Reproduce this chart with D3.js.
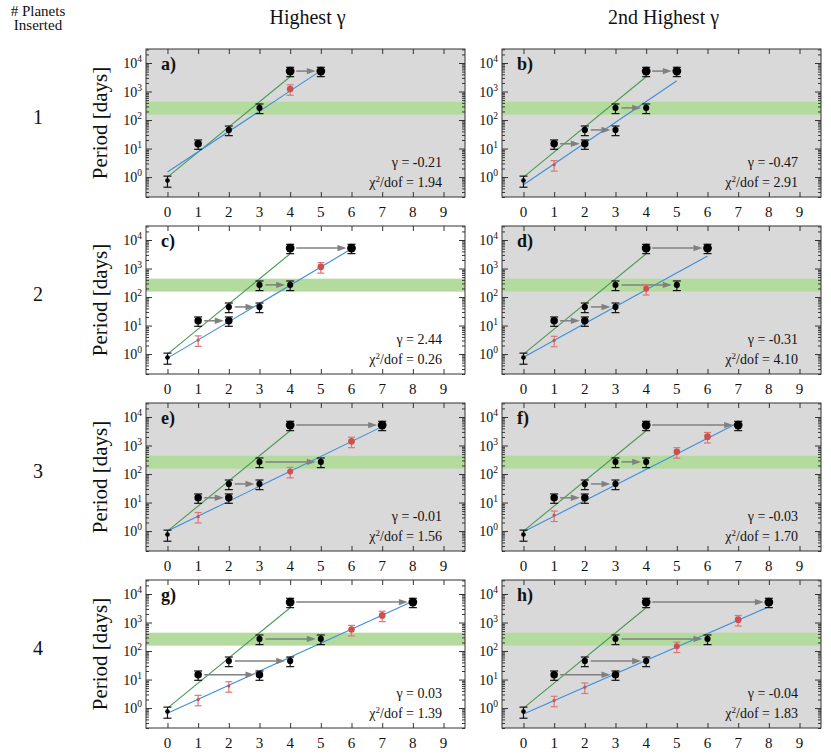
<!DOCTYPE html>
<html><head><meta charset="utf-8">
<script src="https://cdn.jsdelivr.net/npm/d3@7"></script>
<style>
body{margin:0;background:#fff}
svg{display:block}
text{font-family:"Liberation Serif","Times New Roman",serif;fill:#111}
</style>
</head><body>
<svg id="c" width="831" height="756"></svg>
<script>
// ---------------- DATA ----------------
const panelLabels = ["a)","b)","c)","d)","e)","f)","g)","h)"];
const gammaVals  = ["-0.21","-0.47","2.44","-0.31","-0.01","-0.03","0.03","-0.04"];
const chi2Vals   = ["1.94","2.91","0.26","4.10","1.56","1.70","1.39","1.83"];
const whitePanel = [false,false,true,false,false,false,true,false];
const rowLabels  = ["1","2","3","4"];
const colTitles  = ["Highest γ","2nd Highest γ"];
const xTicks     = [0,1,2,3,4,5,6,7,8,9];
const yMajorExp  = [0,1,2,3,4];
const xDomain    = [-0.7, 9.7];
const yDomain    = [0.2, 31000];
const hzBand     = [155, 440];          // green band, period in days

// observed planets: period [days], mass (Earth masses), fractional error
const obsPeriod = [0.76, 14.7, 45, 267, 5200];
const obsMass   = [8, 255, 54, 47, 1200];
const obsErr    = [0.42, 0.36, 0.37, 0.37, 0.36];

// new position of each observed planet after insertion, per panel
const obsNewIndex = [
  [0,1,2,3,5],
  [0,2,3,4,5],
  [0,2,3,4,6],
  [0,2,3,5,6],
  [0,2,3,5,7],
  [0,2,3,4,7],
  [0,3,4,5,8],
  [0,3,4,6,8]
];

// inserted planets per panel: [index, period, mass]
const inserted = [
  [[4,1230,80]],
  [[1,2.7,1.5]],
  [[1,3.1,1.5],[5,1150,100]],
  [[1,3.0,1.5],[4,196,40]],
  [[1,3.2,1.5],[4,122,40],[6,1400,100]],
  [[1,3.6,1.5],[5,600,80],[6,2050,100]],
  [[1,2.0,1.5],[2,6.0,1.5],[6,565,80],[7,1780,100]],
  [[1,1.85,1.5],[2,5.4,1.5],[5,147,40],[7,1260,100]]
];
const insertedErr = 0.4;

// fit to original system (green) and to new system (blue): [[x0,P0],[x1,P1]]
const origFit = [[0,1.0],[4,3300]];
const newFit = [
  [[0,1.5],[5,5400]],
  [[0,0.54],[5,2400]],
  [[0,0.72],[6,4900]],
  [[0,0.77],[6,2750]],
  [[0,1.0],[7,4600]],
  [[0,0.95],[7,6300]],
  [[0,0.66],[8,5600]],
  [[0,0.62],[8,3550]]
];

// ---------------- LAYOUT ----------------
const W = 319, H = 148;
const colLeft = [146, 502];
const rowTop  = [49, 226, 403, 580];
const C = {bg:"#d9d9d9", band:"#b4db9e", green:"#4a9a55", blue:"#3d8edb",
           red:"#cc5050", redErr:"#de7676", arrow:"#808080", frame:"#333"};

const svg = d3.select("#c");
const rScale = d3.scaleLog().domain([1.5,1200]).range([1.6,4.4]).clamp(true);

// headers
svg.append("text").attr("x",38).attr("y",15.5).attr("text-anchor","middle").attr("font-size",15).text("# Planets");
svg.append("text").attr("x",38).attr("y",30).attr("text-anchor","middle").attr("font-size",15).text("Inserted");
colTitles.forEach((t,c)=>{
  svg.append("text").attr("x",colLeft[c]+W/2+2).attr("y",24).attr("text-anchor","middle")
     .attr("font-size",20).text(t);
});
rowLabels.forEach((t,r)=>{
  svg.append("text").attr("x",38).attr("y",rowTop[r]+75).attr("text-anchor","middle")
     .attr("font-size",20).text(t);
});

const minorVals = [];
for (let d=-1; d<=4; d++) for (let k=2;k<=9;k++){const v=k*Math.pow(10,d); if(v>=yDomain[0]&&v<=yDomain[1]) minorVals.push(v);}
const majorVals = yMajorExp.map(e=>Math.pow(10,e));

panelLabels.forEach((lab,i)=>{
  const col = i%2, row = Math.floor(i/2);
  const g = svg.append("g").attr("transform",`translate(${colLeft[col]},${rowTop[row]})`);
  const x = d3.scaleLinear().domain(xDomain).range([0,W]);
  const y = d3.scaleLog().domain(yDomain).range([H,0]);

  g.append("rect").attr("width",W).attr("height",H).attr("fill",whitePanel[i]?"#fff":C.bg);
  g.append("rect").attr("x",0).attr("width",W).attr("y",y(hzBand[1]))
   .attr("height",y(hzBand[0])-y(hzBand[1])).attr("fill",C.band);

  // ticks
  const tickG = g.append("g").attr("class","ticks");
  const ax = (axis,tr)=>{const a=tickG.append("g").attr("transform",tr||null).call(axis);
     a.select(".domain").remove(); a.selectAll("line").attr("stroke",C.frame); return a;};
  ax(d3.axisBottom(x).tickValues(xTicks).tickSize(-5).tickFormat(""),`translate(0,${H})`);
  ax(d3.axisTop(x).tickValues(xTicks).tickSize(-5).tickFormat(""));
  ax(d3.axisLeft(y).tickValues(majorVals).tickSize(-6).tickFormat(""));
  ax(d3.axisLeft(y).tickValues(minorVals).tickSize(-3).tickFormat(""));
  ax(d3.axisRight(y).tickValues(majorVals).tickSize(-6).tickFormat(""),`translate(${W},0)`);
  ax(d3.axisRight(y).tickValues(minorVals).tickSize(-3).tickFormat(""),`translate(${W},0)`);

  // fit lines
  const line = d3.line().x(d=>x(d[0])).y(d=>y(d[1]));
  g.append("path").attr("d",line(origFit)).attr("fill","none").attr("stroke",C.green).attr("stroke-width",1.1);
  g.append("path").attr("d",line(newFit[i])).attr("fill","none").attr("stroke",C.blue).attr("stroke-width",1.1);

  // arrows
  obsNewIndex[i].forEach((ni,oi)=>{
    if (ni===oi) return;
    const yy = y(obsPeriod[oi]);
    const xs = x(oi)+6, xt = x(ni)-5, hl = 9, hw = 3.2;
    g.append("line").attr("x1",xs).attr("x2",xt-hl+1).attr("y1",yy).attr("y2",yy)
      .attr("stroke",C.arrow).attr("stroke-width",1.5);
    g.append("path").attr("d",`M${xt},${yy}L${xt-hl},${yy-hw}L${xt-hl},${yy+hw}Z`).attr("fill",C.arrow);
  });

  const drawPoint = (px,P,err,mass,isRed)=>{
    const cx = x(px), cw = isRed?3.5:4;
    const yHi = y(P*(1+err)), yLo = y(P*(1-err));
    const col = isRed?C.redErr:"#111";
    g.append("line").attr("x1",cx).attr("x2",cx).attr("y1",yHi).attr("y2",yLo).attr("stroke",col).attr("stroke-width",1.2);
    g.append("line").attr("x1",cx-cw).attr("x2",cx+cw).attr("y1",yHi).attr("y2",yHi).attr("stroke",col).attr("stroke-width",1.2);
    g.append("line").attr("x1",cx-cw).attr("x2",cx+cw).attr("y1",yLo).attr("y2",yLo).attr("stroke",col).attr("stroke-width",1.2);
    g.append("circle").attr("cx",cx).attr("cy",y(P)).attr("r",rScale(mass)).attr("fill",isRed?C.red:"#000");
  };
  // observed planets at original and new positions
  obsPeriod.forEach((P,oi)=>{
    drawPoint(oi,P,obsErr[oi],obsMass[oi],false);
    if (obsNewIndex[i][oi]!==oi) drawPoint(obsNewIndex[i][oi],P,obsErr[oi],obsMass[oi],false);
  });
  inserted[i].forEach(d=>drawPoint(d[0],d[1],insertedErr,d[2],true));

  // frame
  g.append("rect").attr("width",W).attr("height",H).attr("fill","none").attr("stroke",C.frame).attr("stroke-width",1);

  // x tick labels
  xTicks.forEach(t=>{
    g.append("text").attr("x",x(t)).attr("y",H+20).attr("text-anchor","middle").attr("font-size",15).text(t);
  });
  // y tick labels
  yMajorExp.forEach(e=>{
    const t = g.append("text").attr("x",-4).attr("y",y(Math.pow(10,e))+5).attr("text-anchor","end").attr("font-size",14);
    t.append("tspan").text("10");
    t.append("tspan").attr("dy",-6).attr("font-size",9.5).text(e);
  });

  // panel label
  g.append("text").attr("x",15).attr("y",21).attr("font-size",18).attr("font-weight","bold").text(lab);

  // annotations
  g.append("text").attr("x",W-23).attr("y",H-30).attr("text-anchor","end").attr("font-size",14)
    .text("γ = "+gammaVals[i]);
  const t2 = g.append("text").attr("x",W-23).attr("y",H-10).attr("text-anchor","end").attr("font-size",14);
  t2.append("tspan").text("χ");
  t2.append("tspan").attr("dy",-5).attr("font-size",9).text("2");
  t2.append("tspan").attr("dy",5).text("/dof = "+chi2Vals[i]);

  // y axis title on left column
  if (col===0){
    svg.append("text").attr("transform",`translate(107,${rowTop[row]+H/2}) rotate(-90)`)
      .attr("text-anchor","middle").attr("font-size",21).text("Period [days]");
  }
});
</script>
</body></html>
